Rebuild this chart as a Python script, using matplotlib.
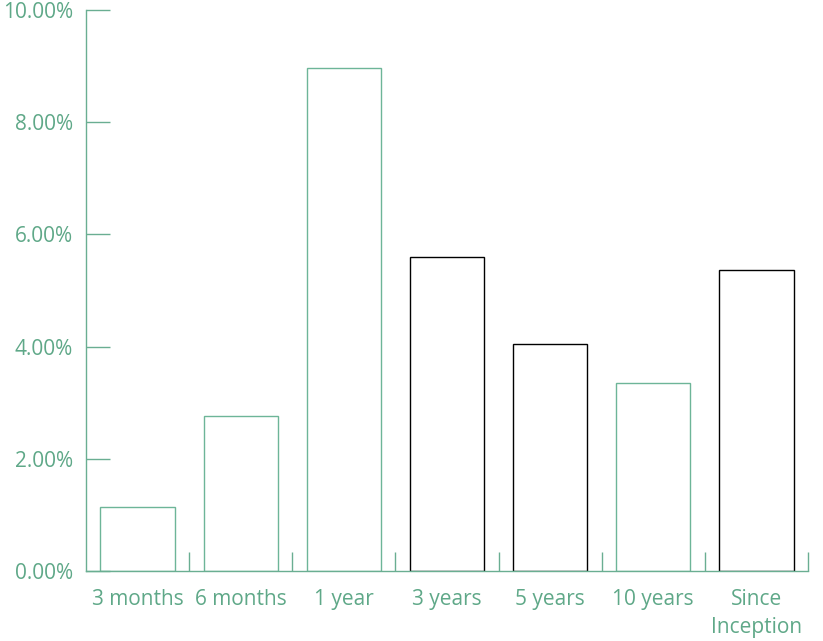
import matplotlib
matplotlib.use("Agg")
import matplotlib.pyplot as plt
import numpy as np

categories = ["3 months", "6 months", "1 year", "3 years", "5 years", "10 years", "Since\nInception"]
values = [1.14, 2.76, 8.97, 5.60, 4.05, 3.35, 5.37]
edge_colors = ["#6db598", "#6db598", "#6db598", "#000000", "#000000", "#6db598", "#000000"]
ytick_vals = [0, 2, 4, 6, 8, 10]
ytick_labels = ["0.00%", "2.00%", "4.00%", "6.00%", "8.00%", "10.00%"]

text_color = "#5fa888"
axis_color = "#6aae92"

plt.rcParams['font.family'] = ['Open Sans', 'DejaVu Sans']

fig = plt.figure(figsize=(8.23, 6.41), dpi=100)
ax = fig.add_axes([86/823, 70/641, (808-86)/823, (571-10)/641])

x = np.arange(len(categories))
ax.bar(x, values, width=0.72, facecolor="white", edgecolor=edge_colors, linewidth=1.0)

ax.set_xlim(-0.5, len(categories) - 0.5)
ax.set_ylim(0, 10)

ax.set_xticks(x)
ax.set_xticklabels(categories, fontsize=15, color=text_color, linespacing=1.45)
ax.set_xticks(np.arange(len(categories)) + 0.5, minor=True)
ax.tick_params(axis='x', which='major', length=0, pad=13)
ax.tick_params(axis='x', which='minor', length=14, direction='in', color=axis_color, width=1)

ax.set_yticks(ytick_vals)
ax.set_yticklabels(ytick_labels, fontsize=15, color=text_color)
ax.tick_params(axis='y', which='major', length=17, direction='in', color=axis_color, width=1, pad=9.5)

for s in ['top', 'right']:
    ax.spines[s].set_visible(False)
for s in ['left', 'bottom']:
    ax.spines[s].set_color(axis_color)
    ax.spines[s].set_linewidth(1)

fig.savefig("out.png", dpi=100)
